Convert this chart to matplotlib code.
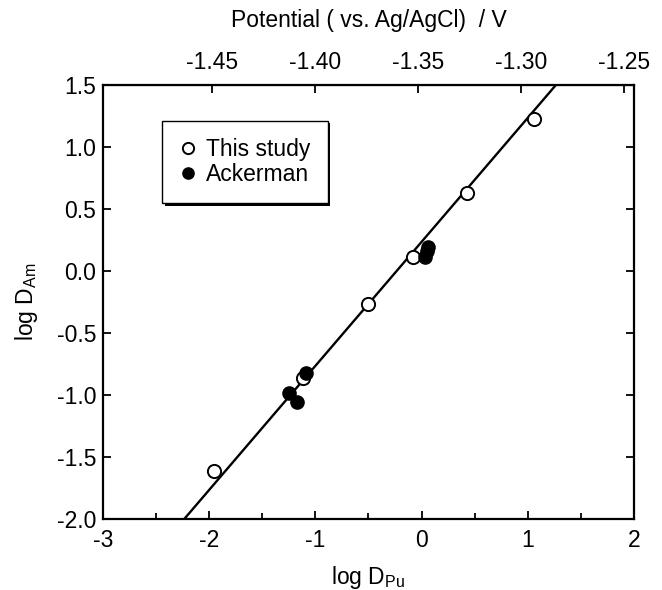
import matplotlib.pyplot as plt
import numpy as np

plt.rcParams['font.family'] = ['Liberation Sans', 'DejaVu Sans']
plt.rcParams['axes.unicode_minus'] = False

# this study (open circles)
studyX = [-1.955, -1.12, -0.50, -0.08, 0.43, 1.058]
studyY = [-1.613, -0.86, -0.266, 0.113, 0.629, 1.226]

# Ackerman (filled circles)
ackX = [-1.25, -1.17, -1.09, 0.03, 0.05, 0.06]
ackY = [-0.984, -1.056, -0.82, 0.11, 0.16, 0.195]

# fitted line
slope = 1.0
intercept = 0.235

# top axis: potential vs log D_Pu
potTicks = [-1.45, -1.40, -1.35, -1.30, -1.25]
potAtLeft = -1.5029   # potential at log D_Pu = -3
potPerUnit = 0.05155

fs = 16.5

fig = plt.figure(figsize=(6.62, 5.90), dpi=100)
ax = fig.add_axes([0.1556, 0.1203, 0.802, 0.7356])

xs = np.array([-3, 2])
ax.plot(xs, slope * xs + intercept, color='black', lw=1.7, zorder=1)
ax.plot(studyX, studyY, 'o', ms=9.5, mfc='white', mec='black', mew=1.4,
        zorder=2, label='This study')
ax.plot(ackX, ackY, 'o', ms=9.5, mfc='black', mec='black', zorder=3,
        label='Ackerman')

ax.set_xlim(-3, 2)
ax.set_ylim(-2.0, 1.5)
ax.set_xticks([-3, -2, -1, 0, 1, 2])
ax.set_xticks(np.arange(-2.5, 2, 1.0), minor=True)
ax.set_yticks(np.arange(-2.0, 1.51, 0.5))
ax.set_yticklabels(['%.1f' % v for v in np.arange(-2.0, 1.51, 0.5)])
ax.tick_params(axis='x', which='both', direction='in', top=False,
               labelsize=fs, pad=7)
ax.tick_params(axis='x', which='major', length=6, width=1.3)
ax.tick_params(axis='x', which='minor', length=4, width=1.3)
ax.tick_params(axis='y', direction='in', right=True, length=6, width=1.3,
               labelsize=fs, pad=5)
for s in ax.spines.values():
    s.set_linewidth(1.6)

ax.set_xlabel(r'log D$_\mathregular{Pu}$', fontsize=fs, labelpad=9)
ax.set_ylabel(r'log D$_\mathregular{Am}$', fontsize=fs, labelpad=12)

# secondary axis for potential
top = ax.secondary_xaxis('top',
                         functions=(lambda x: potAtLeft + (x + 3) * potPerUnit,
                                    lambda p: (p - potAtLeft) / potPerUnit - 3))
top.set_xticks(potTicks)
top.set_xticklabels(['%.2f' % p for p in potTicks])
top.tick_params(direction='in', length=6, width=1.3, labelsize=fs, pad=8)
top.set_xlabel('Potential ( vs. Ag/AgCl)  / V', fontsize=fs, labelpad=17)

leg = ax.legend(loc='upper left', bbox_to_anchor=(0.112, 0.918), fontsize=fs,
                frameon=True, fancybox=False,
                shadow={'color': 'black', 'alpha': 1.0, 'linewidth': 0},
                handletextpad=0.45, handlelength=0.7, borderpad=0.75,
                labelspacing=0.1, markerscale=0.85, borderaxespad=0)
leg.get_frame().set_edgecolor('black')
leg.get_frame().set_linewidth(1.0)

fig.savefig('out.png', dpi=100)
